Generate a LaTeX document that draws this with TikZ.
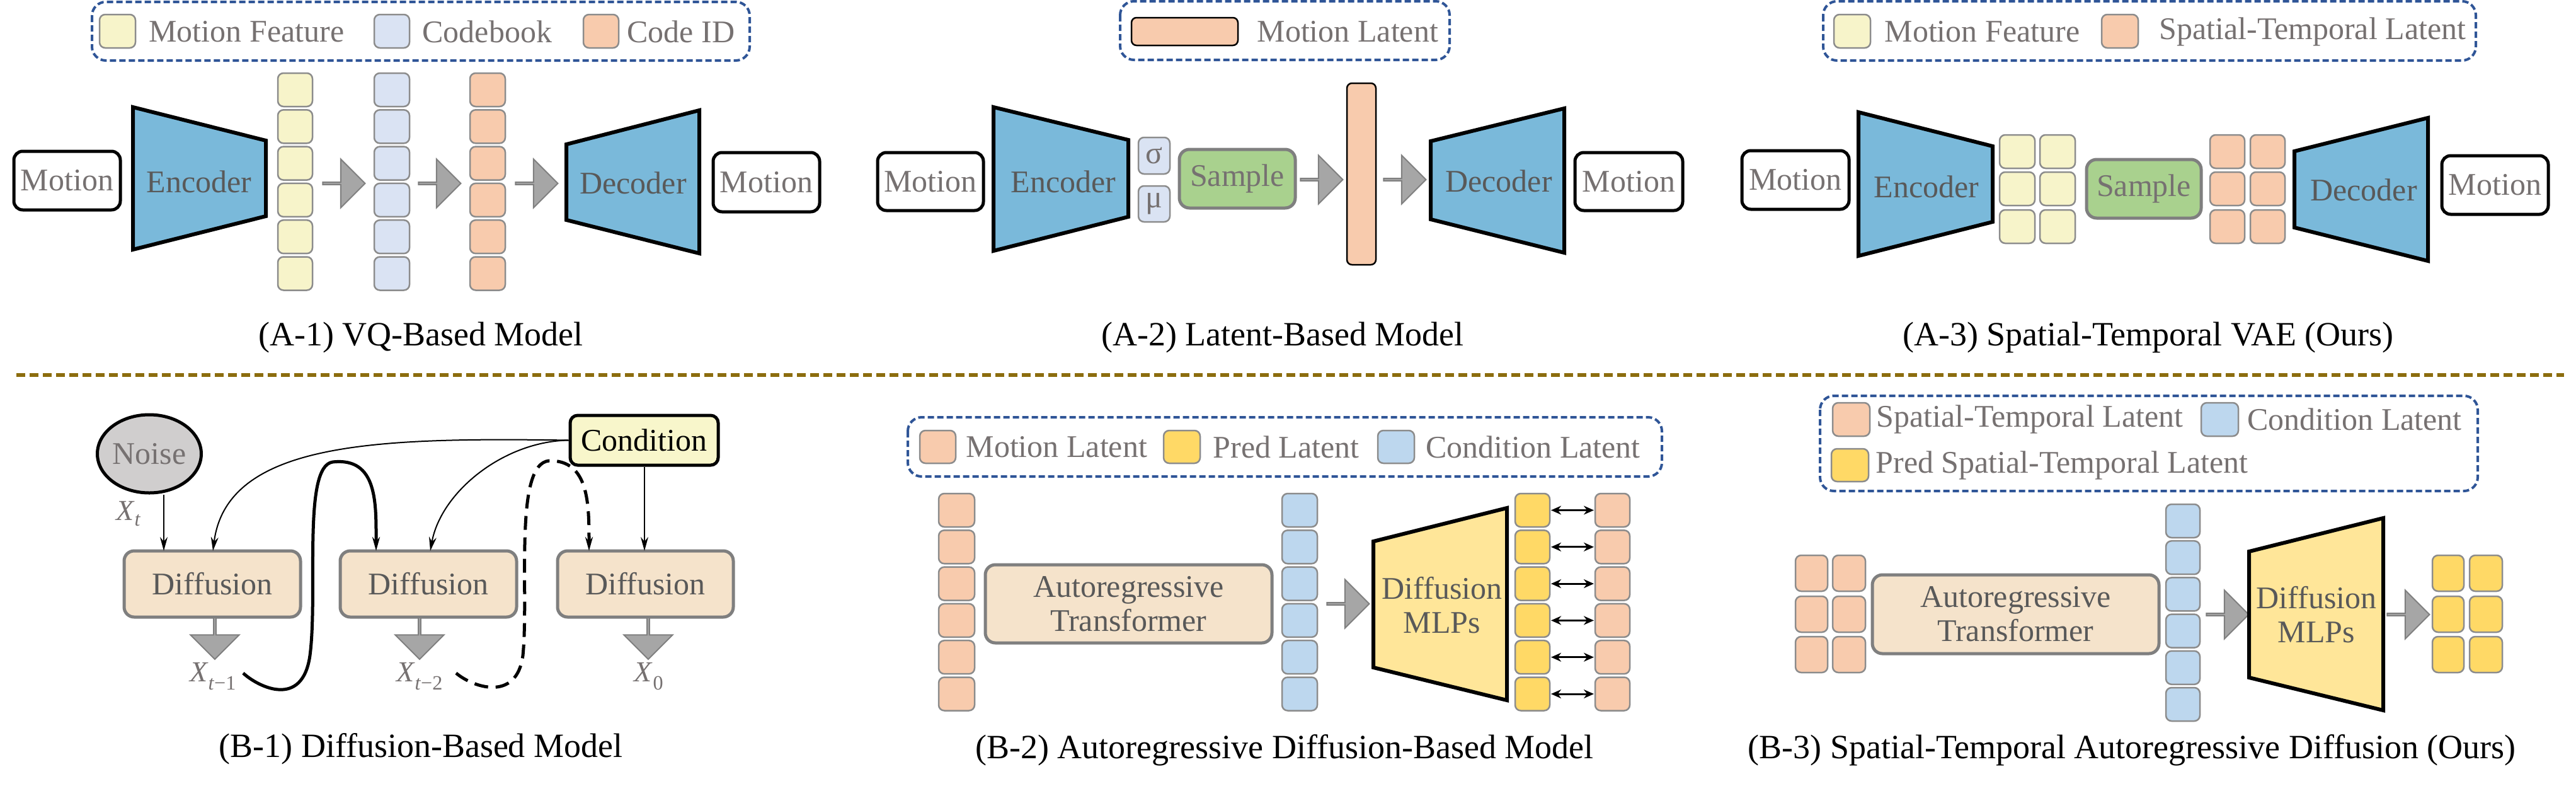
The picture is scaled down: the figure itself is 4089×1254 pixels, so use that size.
\documentclass[tikz,border=0pt]{standalone}
\usepackage{fontspec}
\setmainfont{Liberation Serif}
\usetikzlibrary{shapes.arrows,shapes.geometric,arrows.meta}
\definecolor{txtgray}{HTML}{767171}
\definecolor{dtxt}{HTML}{595959}
\definecolor{legblue}{HTML}{2F5597}
\definecolor{encblue}{HTML}{7AB9DA}
\definecolor{cellgray}{HTML}{8C8C8C}
\definecolor{featY}{HTML}{F7F4CA}
\definecolor{codeB}{HTML}{DAE3F3}
\definecolor{codeO}{HTML}{F8CBAD}
\definecolor{condB}{HTML}{BDD7EE}
\definecolor{predY}{HTML}{FFD966}
\definecolor{mlpY}{HTML}{FFE699}
\definecolor{sampG}{HTML}{A9D18E}
\definecolor{diffF}{HTML}{F5E3CB}
\definecolor{condF}{HTML}{F8F6CB}
\definecolor{noiseF}{HTML}{D0CECE}
\definecolor{arrF}{HTML}{A6A6A6}
\definecolor{arrD}{HTML}{7F7F7F}
\definecolor{gold}{HTML}{8C6D0E}
\newcommand\rbox[7]{\node[#6,inner sep=0pt,minimum width={(#4)-(#2)},minimum height={(#5)-(#3)}] (#1) at ({((#2)+(#4))/2},{((#3)+(#5))/2}) {#7};}
\newcommand\Xs[1]{\textit{X}\textsubscript{#1}}
\begin{document}
\begin{tikzpicture}[x=1pt,y=-1pt,
  lab/.style={font=\fontsize{50}{56}\selectfont,text=txtgray},
  dlab/.style={font=\fontsize{50}{54}\selectfont,text=dtxt,align=center},
  captxt/.style={font=\fontsize{54}{60}\selectfont},
  box/.style={draw=black,line width=5pt,rounded corners=14pt,fill=white,lab},
  cell/.style={draw=cellgray,line width=2.5pt,rounded corners=9pt},
  legend/.style={draw=legblue,line width=4pt,dash pattern=on 10pt off 5pt,rounded corners=22pt},
  enc/.style={draw=black,line width=6pt,fill=encblue},
  mlp/.style={draw=black,line width=6pt,fill=mlpY},
  gbox/.style={draw=arrD,line width=5pt,rounded corners=16pt},
  barrow/.style={single arrow,fill=arrF,draw=arrD,line width=2pt,minimum width=77pt,single arrow head extend=20pt,minimum height=67pt,inner sep=0pt},
  darrow/.style={barrow,shape border rotate=270,minimum height=66pt},
  thinarr/.style={-{Stealth[length=22pt,width=12pt]},line width=2pt},
  thickarr/.style={-{Stealth[length=22pt,width=12pt]},line width=5pt},
  dbl/.style={{Stealth[length=16pt,width=14pt]}-{Stealth[length=16pt,width=14pt]},line width=3pt},
  mathl/.style={font=\fontsize{46}{50}\selectfont,text=txtgray}
]
\useasboundingbox (0,0) rectangle (4089,1254);
% separator
\draw[gold,line width=6pt,dash pattern=on 14pt off 7pt] (26,595) -- (4070,595);

%%%%%%%% A-1
\draw[legend] (146,3) rectangle (1190,96);
\rbox{l1a}{158}{23}{215}{76}{cell,fill=featY}{}
\node[lab,anchor=west] at (233,50) {Motion Feature};
\rbox{l1b}{594}{23}{650}{76}{cell,fill=codeB}{}
\node[lab,anchor=west] at (667,50) {Codebook};
\rbox{l1c}{926}{23}{982}{76}{cell,fill=codeO}{}
\node[lab,anchor=west] at (992,50) {Code ID};
\rbox{m1}{22}{240}{191}{333}{box}{Motion}
\draw[enc] (211,170) -- (422,223) -- (422,343) -- (211,396) -- cycle;
\node[dlab] (e1) at (316,288) {Encoder};
\foreach \i in {0,...,5}{
  \pgfmathsetmacro\ya{116+58.3*\i}\pgfmathsetmacro\yb{\ya+53}
  \draw[cell,fill=featY] (441,\ya) rectangle (496,\yb);
  \draw[cell,fill=codeB] (594,\ya) rectangle (650,\yb);
  \draw[cell,fill=codeO] (746,\ya) rectangle (802,\yb);
}
\node[barrow] (a1) at (545,291) {};
\node[barrow] (a2) at (697,291) {};
\node[barrow] (a3) at (851,291) {};
\draw[enc] (899,229) -- (1110,175) -- (1110,402) -- (899,349) -- cycle;
\node[dlab] (d1) at (1005,290) {Decoder};
\rbox{m1b}{1132}{242}{1301}{336}{box}{Motion}
\node[captxt] at (668,536) {(A-1) VQ-Based Model};

%%%%%%%% A-2
\draw[legend] (1778,2) rectangle (2301,95);
\rbox{l2a}{1796}{28}{1965}{72}{draw=black,line width=2.5pt,rounded corners=8pt,fill=codeO}{}
\node[lab,anchor=west] at (1992,50) {Motion Latent};
\rbox{m2}{1393}{242}{1561}{334}{box}{Motion}
\draw[enc] (1577,170) -- (1791,222) -- (1791,344) -- (1577,398) -- cycle;
\node[dlab] (e2) at (1688,288) {Encoder};
\rbox{sg}{1807}{218}{1857}{276}{cell,fill=codeB,lab}{σ}
\rbox{mu}{1807}{295}{1857}{352}{cell,fill=codeB,lab}{μ}
\rbox{s2}{1872}{237}{2056}{330}{gbox,fill=sampG,lab}{Sample}
\node[barrow] (a4) at (2097,285) {};
\rbox{lat}{2138}{132}{2184}{420}{draw=black,line width=2.5pt,rounded corners=8pt,fill=codeO}{}
\node[barrow] (a5) at (2229,285) {};
\draw[enc] (2271,224) -- (2483,172) -- (2483,401) -- (2271,348) -- cycle;
\node[dlab] (d2) at (2379,287) {Decoder};
\rbox{m2b}{2500}{242}{2671}{334}{box}{Motion}
\node[captxt] at (2036,536) {(A-2) Latent-Based Model};

%%%%%%%% A-3
\draw[legend] (2894,2) rectangle (3930,96);
\rbox{l3a}{2911}{23}{2969}{76}{cell,fill=featY}{}
\node[lab,anchor=west] at (2988,50) {Motion Feature};
\rbox{l3b}{3336}{23}{3394}{76}{cell,fill=codeO}{}
\node[lab,anchor=west] at (3424,50) {Spatial-Temporal Latent};
\rbox{m3}{2765}{239}{2935}{332}{box}{Motion}
\draw[enc] (2950,178) -- (3163,232) -- (3163,352) -- (2950,406) -- cycle;
\node[dlab] (e3) at (3058,296) {Encoder};
\foreach \y in {214,273,333}{
  \draw[cell,fill=featY] (3174,\y) rectangle (3230,\y+53);
  \draw[cell,fill=featY] (3238,\y) rectangle (3294,\y+53);
  \draw[cell,fill=codeO] (3508,\y) rectangle (3563,\y+53);
  \draw[cell,fill=codeO] (3572,\y) rectangle (3627,\y+53);
}
\rbox{s3}{3312}{253}{3494}{346}{gbox,fill=sampG,lab}{Sample}
\draw[enc] (3642,240) -- (3854,187) -- (3854,414) -- (3642,361) -- cycle;
\node[dlab] (d3) at (3752,301) {Decoder};
\rbox{m3b}{3876}{247}{4045}{340}{box}{Motion}
\node[captxt] at (3410,536) {(A-3) Spatial-Temporal VAE (Ours)};

%%%%%%%% B-1
\node[ellipse,draw=black,line width=5pt,fill=noiseF,minimum width=146pt,minimum height=124pt,inner sep=0pt,lab,text=txtgray] (noise) at (237,720) {Noise};
\node[mathl] at (204,815) {\Xs{\textit{t}}};
\rbox{df1}{197}{874}{477}{979}{gbox,fill=diffF,dlab}{Diffusion}
\rbox{df2}{540}{874}{820}{979}{gbox,fill=diffF,dlab}{Diffusion}
\rbox{df3}{885}{874}{1164}{979}{gbox,fill=diffF,dlab}{Diffusion}
\rbox{cond}{905}{659}{1140}{738}{draw=black,line width=5pt,rounded corners=12pt,fill=condF,font=\fontsize{50}{56}\selectfont}{Condition}
\draw[thinarr] (noise.south -| 260,0) -- (260,874);
\draw[thinarr] (cond.west) .. controls (600,694) and (360,700) .. (338,874);
\draw[thinarr] (cond.west) .. controls (800,700) and (700,780) .. (683,874);
\draw[thinarr] (cond.south -| 1023,0) -- (1023,874);
\node[darrow] (b1) at (341,1012) {};
\node[darrow] (b2) at (666,1012) {};
\node[darrow] (b3) at (1029,1012) {};
\node[mathl] (x1) at (338,1073) {\Xs{\textit{t}−1}};
\node[mathl] (x2) at (666,1073) {\Xs{\textit{t}−2}};
\node[mathl] (x0) at (1030,1073) {\Xs{0}};
\coordinate (c1s) at (386,1068);
\coordinate (c2s) at (724,1068);
\draw[thickarr] (c1s) .. controls (410,1090) and (480,1125) .. (492,1040)
  .. controls (505,940) and (480,740) .. (528,733)
  .. controls (600,725) and (597,800) .. (597,874);
\draw[thickarr,dash pattern=on 22pt off 12pt] (c2s) .. controls (750,1090) and (820,1115) .. (830,1040)
  .. controls (840,940) and (815,735) .. (872,731)
  .. controls (935,730) and (935,800) .. (935,874);
\node[captxt] at (668,1188) {(B-1) Diffusion-Based Model};

%%%%%%%% B-2
\draw[legend] (1441,662) rectangle (2638,756);
\rbox{l4a}{1460}{683}{1517}{735}{cell,fill=codeO}{}
\node[lab,anchor=west] at (1530,709) {Motion Latent};
\rbox{l4b}{1847}{683}{1905}{735}{cell,fill=predY}{}
\node[lab,anchor=west] at (1922,709) {Pred Latent};
\rbox{l4c}{2187}{683}{2245}{735}{cell,fill=condB}{}
\node[lab,anchor=west] at (2260,709) {Condition Latent};
\foreach \i in {0,...,5}{
  \pgfmathsetmacro\ya{783+58.3*\i}\pgfmathsetmacro\yb{\ya+53}\pgfmathsetmacro\ym{\ya+26.5}
  \draw[cell,fill=codeO] (1490,\ya) rectangle (1547,\yb);
  \draw[cell,fill=condB] (2035,\ya) rectangle (2091,\yb);
  \draw[cell,fill=predY] (2405,\ya) rectangle (2460,\yb);
  \draw[cell,fill=codeO] (2532,\ya) rectangle (2587,\yb);
  \draw[dbl] (2462,\ym) -- (2530,\ym);
}
\rbox{ar2}{1564}{896}{2019}{1020}{gbox,fill=diffF,dlab}{Autoregressive\\Transformer}
\node[barrow] (a6) at (2139,958) {};
\draw[mlp] (2180,859) -- (2392,806) -- (2392,1111) -- (2180,1059) -- cycle;
\node[dlab] (mlp2) at (2289,960) {Diffusion\\MLPs};
\node[captxt] at (2039,1190) {(B-2) Autoregressive Diffusion-Based Model};

%%%%%%%% B-3
\draw[legend] (2889,628) rectangle (3933,779);
\rbox{l5a}{2909}{639}{2968}{692}{cell,fill=codeO}{}
\node[lab,anchor=west] at (2975,665) {Spatial-Temporal Latent};
\rbox{l5b}{3494}{639}{3553}{692}{cell,fill=condB}{}
\node[lab,anchor=west] at (3564,665) {Condition Latent};
\rbox{l5c}{2907}{712}{2966}{764}{cell,fill=predY}{}
\node[lab,anchor=west] at (2974,738) {Pred Spatial-Temporal Latent};
\foreach \y in {881,946,1010}{
  \draw[cell,fill=codeO] (2850,\y) rectangle (2901,\y+57);
  \draw[cell,fill=codeO] (2909,\y) rectangle (2961,\y+57);
  \draw[cell,fill=predY] (3861,\y) rectangle (3911,\y+57);
  \draw[cell,fill=predY] (3920,\y) rectangle (3972,\y+57);
}
\foreach \i in {0,...,5}{
  \pgfmathsetmacro\ya{800+58.2*\i}\pgfmathsetmacro\yb{\ya+53}
  \draw[cell,fill=condB] (3438,\ya) rectangle (3492,\yb);
}
\rbox{ar3}{2972}{912}{3427}{1037}{gbox,fill=diffF,dlab}{Autoregressive\\Transformer}
\node[barrow] (a7) at (3535,975) {};
\draw[mlp] (3570,875) -- (3783,822) -- (3783,1127) -- (3570,1075) -- cycle;
\node[dlab] (mlp3) at (3677,975) {Diffusion\\MLPs};
\node[barrow] (a8) at (3822,975) {};
\node[captxt] at (3384,1190) {(B-3) Spatial-Temporal Autoregressive Diffusion (Ours)};
\end{tikzpicture}
\end{document}
